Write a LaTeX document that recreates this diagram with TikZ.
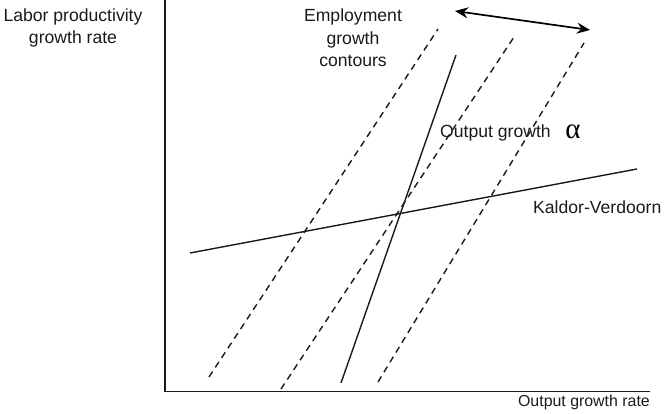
\documentclass[tikz,border=0pt]{standalone}
\usepackage{fontspec}
\setmainfont{Liberation Sans}
\newfontfamily\greekserif{Liberation Serif}
\usetikzlibrary{arrows.meta}
\definecolor{ink}{HTML}{1A1A1A}
\begin{document}
\begin{tikzpicture}[x=1pt,y=-1pt,
  lab/.style={font=\fontsize{17.6}{22.4}\selectfont, text=ink, inner sep=0pt},
  axisline/.style={line width=1.5pt, draw=ink},
  curve/.style={line width=1.4pt, draw=ink},
  contour/.style={line width=1.4pt, draw=ink, dash pattern=on 6.5pt off 5pt},
  shiftarrow/.style={line width=1.7pt, draw=black, {Stealth[length=13pt,width=11pt]}-{Stealth[length=13pt,width=11pt]}}]
\useasboundingbox (0,0) rectangle (666,414);
% axes
\coordinate (o) at (165,391.5);
\coordinate (ytop) at (165,0);
\coordinate (xend) at (650,391.5);
\draw[axisline] (ytop) -- (o) -- (xend);
% contours
\coordinate (c1a) at (209,377); \coordinate (c1b) at (438,29);
\coordinate (c2a) at (281,389); \coordinate (c2b) at (514,37);
\coordinate (c3a) at (378,382); \coordinate (c3b) at (584,43);
\draw[contour] (c1a) -- (c1b);
\draw[contour] (c2a) -- (c2b);
\draw[contour] (c3a) -- (c3b);
% output growth line
\coordinate (ga) at (341,383); \coordinate (gb) at (456,55);
\draw[curve] (ga) -- (gb);
% Kaldor-Verdoorn line
\coordinate (ka) at (190,253); \coordinate (kb) at (637,169);
\draw[curve] (ka) -- (kb);
% shift arrow
\coordinate (aa) at (455,11); \coordinate (ab) at (590,30);
\draw[shiftarrow] (aa) -- (ab);
% labels
\node[lab, align=center, anchor=north] (ylab) at (73,8.5) {Labor productivity\\growth rate};
\node[lab, align=center, anchor=north] (emp) at (353,9) {Employment\\growth\\contours};
\node[lab, anchor=base west] (og) at (440,138) {Output growth};
\node[inner sep=0pt, text=black, font=\greekserif\fontsize{29}{29}\selectfont, anchor=base] (alpha) at (573,139) {α};
\node[lab, anchor=base west] (kv) at (533,213) {Kaldor-Verdoorn};
\node[lab, font=\fontsize{15.9}{19}\selectfont, anchor=base east] (xlab) at (650,406) {Output growth rate};
\end{tikzpicture}
\end{document}
